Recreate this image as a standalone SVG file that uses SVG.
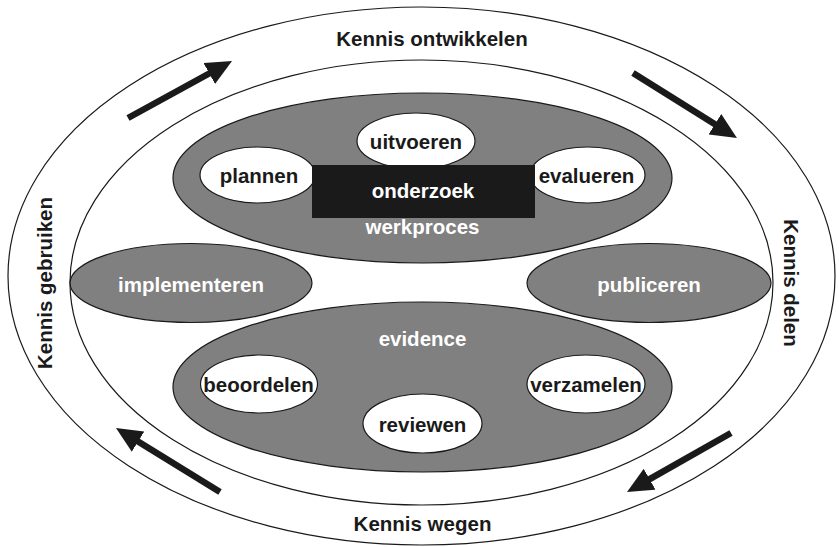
<svg xmlns="http://www.w3.org/2000/svg" width="839" height="547" viewBox="0 0 839 547">
<defs>
<style>
.ring{fill:none;stroke:#1a1a1a;stroke-width:1.2}
.grey{fill:#808080;stroke:#1a1a1a;stroke-width:1.2}
.white{fill:#ffffff;stroke:#1a1a1a;stroke-width:1.2}
text{font-family:"Liberation Sans",Arial,sans-serif;font-weight:bold;font-size:20.5px;text-anchor:middle}
.dk{fill:#1a1a1a}
.lt{fill:#ffffff}
.arrow{stroke:#1a1a1a;stroke-width:6.5;fill:none;marker-end:url(#head)}
</style>
<marker id="head" viewBox="0 0 26 24" markerWidth="26" markerHeight="24" markerUnits="userSpaceOnUse" refX="2" refY="12" orient="auto">
<path d="M0,0 L26,12 L0,24 z" fill="#1a1a1a"/>
</marker>
</defs>
<rect width="839" height="547" fill="#ffffff"/>
<g id="outer-ring">
<ellipse class="ring" cx="421.5" cy="276" rx="413.5" ry="269"/>
<ellipse class="ring" cx="421.5" cy="282.5" rx="351.5" ry="222.5"/>
</g>
<g id="labels-ring">
<text class="dk" x="432" y="46">Kennis ontwikkelen</text>
<text class="dk" x="422.5" y="531">Kennis wegen</text>
<text class="dk" transform="translate(52,283) rotate(-90)">Kennis gebruiken</text>
<text class="dk" transform="translate(784,283) rotate(90)">Kennis delen</text>
</g>
<g id="connectors">
<line class="arrow" x1="128" y1="118" x2="211" y2="72.5"/>
<line class="arrow" x1="633" y1="73" x2="716.6" y2="125.3"/>
<line class="arrow" x1="731" y1="433" x2="647.9" y2="480.2"/>
<line class="arrow" x1="220" y1="492" x2="136.4" y2="440.6"/>
</g>
<g id="werkproces">
<ellipse class="grey" cx="422.5" cy="178" rx="249.5" ry="85"/>
<text class="lt" x="422.5" y="234">werkproces</text>
</g>
<g id="plannen">
<ellipse class="white" cx="257.5" cy="175" rx="57.5" ry="28"/>
<text class="dk" x="259" y="183">plannen</text>
</g>
<g id="uitvoeren">
<ellipse class="white" cx="416" cy="141" rx="59" ry="28"/>
<text class="dk" x="416" y="149">uitvoeren</text>
</g>
<g id="evalueren">
<ellipse class="white" cx="587.5" cy="175" rx="57.5" ry="28"/>
<text class="dk" x="586.5" y="183">evalueren</text>
</g>
<g id="onderzoek">
<rect x="312" y="165" width="223" height="53" fill="#1a1a1a"/>
<text class="lt" x="423" y="198">onderzoek</text>
</g>
<g id="implementeren">
<ellipse class="grey" cx="191" cy="283" rx="121" ry="39.5"/>
<text class="lt" x="191" y="292">implementeren</text>
</g>
<g id="publiceren">
<ellipse class="grey" cx="649" cy="283" rx="122" ry="39.5"/>
<text class="lt" x="649" y="292">publiceren</text>
</g>
<g id="evidence">
<ellipse class="grey" cx="422.5" cy="387" rx="249.5" ry="85"/>
<text class="lt" x="422.5" y="346">evidence</text>
</g>
<g id="beoordelen">
<ellipse class="white" cx="259" cy="384" rx="58.5" ry="29"/>
<text class="dk" x="258.5" y="392">beoordelen</text>
</g>
<g id="verzamelen">
<ellipse class="white" cx="586" cy="384" rx="59" ry="29"/>
<text class="dk" x="586" y="392">verzamelen</text>
</g>
<g id="reviewen">
<ellipse class="white" cx="422.5" cy="423.5" rx="59.5" ry="29.5"/>
<text class="dk" x="422.5" y="432">reviewen</text>
</g>
</svg>
